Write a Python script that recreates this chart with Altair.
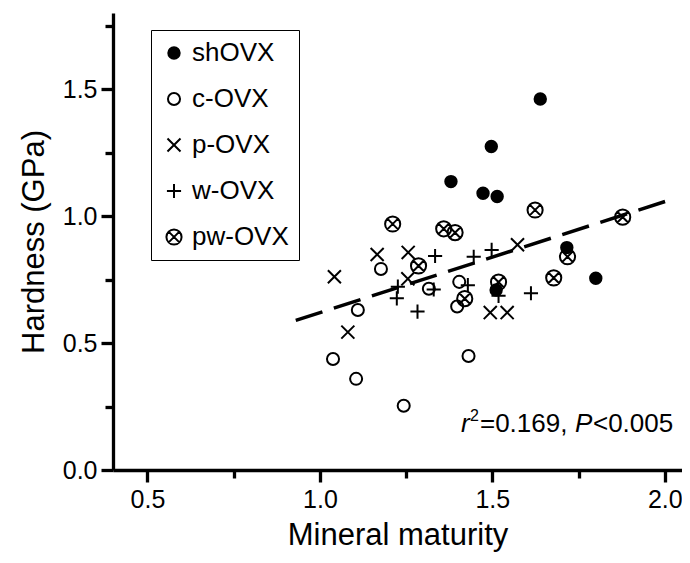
import altair as alt
import pandas as pd

FONT = "Liberation Sans"

groups = ["shOVX", "c-OVX", "p-OVX", "w-OVX", "pw-OVX"]

sh_x = [1.639, 1.497, 1.380, 1.473, 1.514, 1.716, 1.800, 1.511]
sh_y = [1.461, 1.274, 1.136, 1.090, 1.077, 0.876, 0.755, 0.709]

c_x = [1.038, 1.105, 1.243, 1.431, 1.110, 1.398, 1.316, 1.404, 1.177]
c_y = [0.437, 0.359, 0.253, 0.449, 0.630, 0.644, 0.714, 0.741, 0.792]

p_x = [1.042, 1.166, 1.256, 1.573, 1.494, 1.543, 1.255, 1.081]
p_y = [0.761, 0.849, 0.857, 0.887, 0.620, 0.620, 0.753, 0.543]

w_x = [1.334, 1.446, 1.498, 1.226, 1.223, 1.283, 1.330, 1.429, 1.518, 1.612]
w_y = [0.843, 0.840, 0.867, 0.722, 0.676, 0.624, 0.711, 0.728, 0.686, 0.696]

pw_x = [1.211, 1.359, 1.392, 1.624, 1.878, 1.718, 1.518, 1.678, 1.286, 1.420]
pw_y = [0.969, 0.950, 0.935, 1.024, 0.996, 0.840, 0.740, 0.757, 0.804, 0.675]

# regression line end points
fit_x = [0.93, 2.02]
fit_y = [0.589, 1.066]

# annotation anchor
ann_x = [1.409]
ann_y = [0.150]

x_major = [0.5, 1.0, 1.5, 2.0]
x_minor = [0.75, 1.25, 1.75]
y_major = [0.0, 0.5, 1.0, 1.5]
y_minor = [0.25, 0.75, 1.25, 1.75]

X_PATH = "M-1,-1L1,1M-1,1L1,-1"
PLUS_PATH = "M-1,0L1,0M0,-1L0,1"
PW_PATH = ("M1,0A1,1,0,1,1,-1,0A1,1,0,1,1,1,0Z"
           "M-0.7071,-0.7071L0.7071,0.7071M-0.7071,0.7071L0.7071,-0.7071")
shapes = ["circle", "circle", X_PATH, PLUS_PATH, PW_PATH]
fills = ["black", "transparent", "transparent", "transparent", "transparent"]
strokes = ["black"] * 5
sizes = [130, 145, 170, 200, 230]
size_of = dict(zip(groups, sizes))

rows = []
for g, xs, ys in zip(groups, [sh_x, c_x, p_x, w_x, pw_x], [sh_y, c_y, p_y, w_y, pw_y]):
    for a, b in zip(xs, ys):
        rows.append({"group": g, "x": a, "y": b, "sz": size_of[g]})
df = pd.DataFrame(rows)

size_expr = " : ".join(f"datum.value === '{g}' ? {s}" for g, s in zip(groups, sizes)) + " : 100"

xscale = alt.Scale(domain=[0.4, 2.05], nice=False, zero=False)
yscale = alt.Scale(domain=[0.0, 1.8], nice=False, zero=False)

xaxis = alt.Axis(values=x_major, format=".1f", tickSize=12, orient="bottom",
                 title="Mineral maturity", labelPadding=5, titlePadding=8)
yaxis = alt.Axis(values=y_major, format=".1f", tickSize=12, orient="left",
                 title="Hardness (GPa)", labelPadding=4, titlePadding=12)
xaxis_minor = alt.Axis(values=x_minor, tickSize=8, labels=False, domain=False,
                       orient="bottom", title=None)
yaxis_minor = alt.Axis(values=y_minor, tickSize=8, labels=False, domain=False,
                       orient="left", title=None)

leg = alt.Legend(title=None, symbolSize=alt.ExprRef(expr=size_expr))

points = alt.Chart(df).mark_point(strokeWidth=2, opacity=1).encode(
    x=alt.X("x:Q", scale=xscale, axis=xaxis),
    y=alt.Y("y:Q", scale=yscale, axis=yaxis),
    shape=alt.Shape("group:N", scale=alt.Scale(domain=groups, range=shapes), legend=leg),
    fill=alt.Fill("group:N", scale=alt.Scale(domain=groups, range=fills), legend=leg),
    stroke=alt.Stroke("group:N", scale=alt.Scale(domain=groups, range=strokes), legend=leg),
    size=alt.Size("sz:Q", scale=None),
)

fit_df = pd.DataFrame({"x": fit_x, "y": fit_y})
fit = alt.Chart(fit_df).mark_line(color="black", strokeWidth=3.5,
                                  strokeDash=[28, 12]).encode(
    x=alt.X("x:Q", scale=xscale, axis=xaxis_minor),
    y=alt.Y("y:Q", scale=yscale, axis=yaxis_minor),
)

ann_df = pd.DataFrame({"x": ann_x, "y": ann_y})


def txt(s, dx, dy=0, size=26, style="normal"):
    return alt.Chart(ann_df).mark_text(
        text=s, align="left", baseline="alphabetic", dx=dx, dy=dy,
        font=FONT, fontSize=size, fontStyle=style, color="black"
    ).encode(x=alt.X("x:Q", scale=xscale, axis=None),
             y=alt.Y("y:Q", scale=yscale, axis=None))


ann = [txt("r", 0, style="italic"), txt("2", 9, -11, size=16),
       txt("=0.169,", 19), txt("P", 114, style="italic"), txt("<0.005", 132)]

chart = alt.layer(points, fit, *ann).resolve_axis(
    x="independent", y="independent"
).properties(
    width=569, height=457,
    autosize=alt.AutoSizeParams(type="none"),
    padding={"left": 105, "top": 5, "right": 0, "bottom": 85},
).configure_view(strokeWidth=0).configure_axis(
    grid=False, domainColor="black", domainWidth=3.3, tickColor="black",
    tickWidth=3.3, labelFont=FONT, labelFontSize=25, labelColor="black",
    titleFont=FONT, titleFontSize=31, titleFontWeight="normal", titleColor="black",
).configure_legend(
    orient="none", legendX=38, legendY=17, strokeColor="black", strokeWidth=1,
    padding=10, labelFont=FONT, labelFontSize=26, labelColor="black",
    symbolStrokeWidth=2, rowPadding=20,
    symbolOffset=0, labelOffset=5, fillColor="white",
)

chart.save("out.html", embed_options={"renderer": "svg", "actions": False})
